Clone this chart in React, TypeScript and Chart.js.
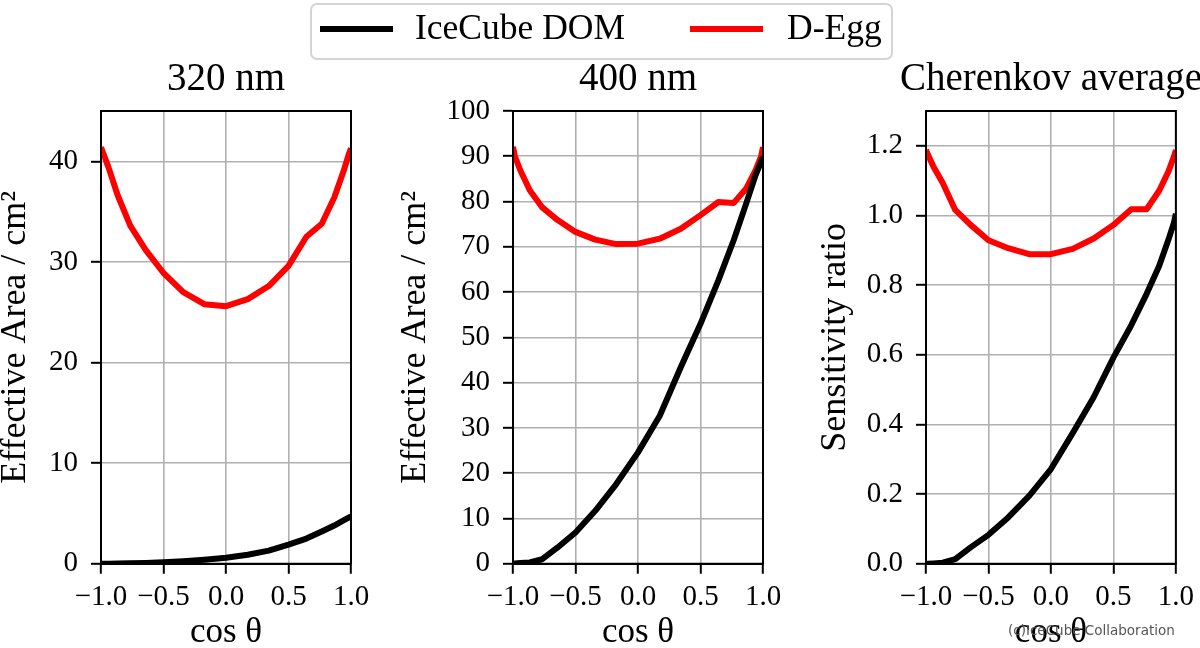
import React, { useEffect, useRef } from "react";
import { Chart, registerables } from "chart.js";

Chart.register(...registerables);

// cos(theta) sample points (theta in 10 degree steps)
const cosTheta = [-1, -0.985, -0.94, -0.866, -0.766, -0.643, -0.5, -0.342, -0.174, 0, 0.174, 0.342, 0.5, 0.643, 0.766, 0.866, 0.94, 0.985, 1];

// 320 nm effective area (cm^2)
const dom320 = [0, 0, 0.01, 0.02, 0.04, 0.08, 0.15, 0.25, 0.4, 0.6, 0.9, 1.3, 1.9, 2.5, 3.2, 3.8, 4.3, 4.6, 4.7];
const degg320 = [41.4, 40.9, 39.4, 36.6, 33.6, 31.2, 28.9, 27.0, 25.8, 25.6, 26.3, 27.6, 29.6, 32.5, 33.8, 36.4, 39.0, 40.8, 41.3];

// 400 nm effective area (cm^2)
const dom400 = [0, 0.05, 0.15, 0.3, 1.0, 3.6, 6.9, 11.7, 17.6, 24.6, 32.7, 43.4, 53.0, 62.6, 71.5, 79.6, 85.8, 88.8, 89.9];
const degg400 = [92.1, 90.0, 86.8, 82.5, 78.7, 75.9, 73.3, 71.6, 70.6, 70.7, 71.8, 74.0, 77.0, 79.9, 79.7, 82.9, 86.9, 90.0, 92.0];

// Cherenkov-weighted sensitivity ratio
const domCh = [0, 0, 0.001, 0.003, 0.013, 0.047, 0.083, 0.133, 0.195, 0.272, 0.375, 0.478, 0.592, 0.685, 0.775, 0.855, 0.93, 0.98, 1.005];
const deggCh = [1.188, 1.175, 1.14, 1.093, 1.016, 0.973, 0.929, 0.906, 0.889, 0.889, 0.904, 0.934, 0.973, 1.018, 1.018, 1.071, 1.126, 1.17, 1.188];

const panelTitles = ["320 nm", "400 nm", "Cherenkov average"];
const yLabels = ["Effective Area / cm\u00B2", "Effective Area / cm\u00B2", "Sensitivity ratio"];
const xLabel = "cos \u03B8";
const seriesNames = ["IceCube DOM", "D-Egg"];
const seriesColors = ["#000000", "#ff0000"];

const FONT = "'Liberation Serif', 'DejaVu Serif', serif";

type Spec = {
  title: string;
  yLabel: string;
  dom: number[];
  degg: number[];
  yMax: number;
  yStep: number;
  decimals: number;
  left: number;
  width: number;
  yAxisWidth: number;
  padRight: number;
};

const specs: Spec[] = [
  { title: panelTitles[0], yLabel: yLabels[0], dom: dom320, degg: degg320, yMax: 45, yStep: 10, decimals: 0, left: 0, width: 400, yAxisWidth: 101, padRight: 49 },
  { title: panelTitles[1], yLabel: yLabels[1], dom: dom400, degg: degg400, yMax: 100, yStep: 10, decimals: 0, left: 400, width: 400, yAxisWidth: 113, padRight: 37 },
  { title: panelTitles[2], yLabel: yLabels[2], dom: domCh, degg: deggCh, yMax: 1.3, yStep: 0.2, decimals: 1, left: 820, width: 380, yAxisWidth: 106, padRight: 24 },
];

// black frame around the plot area (like matplotlib spines)
const framePlugin = {
  id: "frame",
  afterDatasetsDraw(chart: any) {
    const { ctx, chartArea } = chart;
    ctx.save();
    ctx.strokeStyle = "#000";
    ctx.lineWidth = 2;
    ctx.strokeRect(chartArea.left, chartArea.top, chartArea.right - chartArea.left, chartArea.bottom - chartArea.top);
    ctx.restore();
  },
};

// center the title box over the plot area, wide enough not to squeeze the text
const titleCenterPlugin = {
  id: "titleCenter",
  afterLayout(chart: any) {
    const t = chart.titleBlock;
    if (!t) return;
    const cx = (chart.chartArea.left + chart.chartArea.right) / 2;
    const half = 200;
    t.left = cx - half;
    t.right = cx + half;
    t.width = half * 2;
  },
};

function fmtTick(v: number, decimals: number) {
  const s = Math.abs(v).toFixed(decimals);
  return (v < -1e-9 ? "\u2212" : "") + s;
}

function Panel({ spec }: { spec: Spec }) {
  const ref = useRef<HTMLCanvasElement>(null);
  useEffect(() => {
    if (!ref.current) return;
    const tickFont = { family: FONT, size: 29, lineHeight: 1.2 };
    const grid = {
      color: "#b0b0b0",
      lineWidth: 1.6,
      drawTicks: true,
      tickColor: "#000",
      tickWidth: 2,
      tickLength: 10,
    };
    const lineStyle = {
      borderWidth: 6,
      pointRadius: 0,
      tension: 0,
      clip: 0,
      borderJoinStyle: "round",
      borderCapStyle: "butt",
    };
    const chart = new Chart(ref.current, {
      type: "line",
      data: {
        datasets: [
          {
            label: seriesNames[0],
            data: cosTheta.map((x, i) => ({ x, y: spec.dom[i] })),
            borderColor: seriesColors[0],
            backgroundColor: seriesColors[0],
            ...lineStyle,
          },
          {
            label: seriesNames[1],
            data: cosTheta.map((x, i) => ({ x, y: spec.degg[i] })),
            borderColor: seriesColors[1],
            backgroundColor: seriesColors[1],
            ...lineStyle,
          },
        ],
      },
      options: {
        responsive: false,
        animation: false,
        devicePixelRatio: 1,
        events: [],
        layout: { padding: { left: 0, right: spec.padRight, top: 56.6, bottom: 6.25 } },
        plugins: {
          legend: { display: false },
          tooltip: { enabled: false },
          title: {
            display: true,
            text: spec.title,
            fullSize: false,
            color: "#000",
            font: { family: FONT, size: 39, weight: "normal", lineHeight: 1.2 },
            padding: { top: 0, bottom: 7.6 },
          },
        },
        scales: {
          x: {
            type: "linear",
            min: -1,
            max: 1,
            ticks: {
              stepSize: 0.5,
              color: "#000",
              font: tickFont,
              padding: 6,
              maxRotation: 0,
              autoSkip: false,
              includeBounds: false,
              callback: (v: any) => fmtTick(Number(v), 1),
            },
            grid,
            border: { display: true, color: "#000", width: 2 },
            title: {
              display: true,
              text: xLabel,
              color: "#000",
              font: { family: FONT, size: 35, lineHeight: 0.5 },
              padding: { top: 0, bottom: 0 },
            },
            afterFit: (s: any) => {
              s.height = 78;
            },
          },
          y: {
            type: "linear",
            min: 0,
            max: spec.yMax,
            ticks: {
              stepSize: spec.yStep,
              color: "#000",
              font: tickFont,
              padding: 13,
              autoSkip: false,
              includeBounds: false,
              callback: (v: any) => fmtTick(Number(v), spec.decimals),
            },
            grid,
            border: { display: true, color: "#000", width: 2 },
            title: {
              display: true,
              text: spec.yLabel,
              color: "#000",
              font: { family: FONT, size: 36, lineHeight: 0.8 },
              padding: { top: 1, bottom: 0 },
            },
            afterFit: (s: any) => {
              s.width = spec.yAxisWidth;
            },
          },
        },
      } as any,
      plugins: [framePlugin, titleCenterPlugin],
    });
    return () => chart.destroy();
  }, [spec]);
  return (
    <canvas
      ref={ref}
      width={spec.width}
      height={648}
      style={{ position: "absolute", left: spec.left, top: 0, width: spec.width, height: 648 }}
    />
  );
}

function Legend() {
  const textStyle: React.CSSProperties = {
    position: "absolute",
    top: 5.3,
    fontFamily: FONT,
    fontSize: 35.5,
    lineHeight: 1,
    color: "#000",
    whiteSpace: "nowrap",
  };
  return (
    <div
      style={{
        position: "absolute",
        left: 310,
        top: 3,
        width: 583,
        height: 57,
        boxSizing: "border-box",
        border: "2px solid #d4d4d4",
        borderRadius: 7,
        background: "rgba(255,255,255,0.85)",
      }}
    >
      <div style={{ position: "absolute", left: 8, top: 21, width: 73, height: 6, background: seriesColors[0] }} />
      <div style={{ ...textStyle, left: 103 }}>{seriesNames[0]}</div>
      <div style={{ position: "absolute", left: 378, top: 21, width: 73, height: 6, background: seriesColors[1] }} />
      <div style={{ ...textStyle, left: 475 }}>{seriesNames[1]}</div>
    </div>
  );
}

export default function App() {
  return (
    <div
      style={{
        position: "fixed",
        left: 0,
        top: 0,
        width: 1200,
        height: 648,
        background: "#fff",
        overflow: "hidden",
      }}
    >
      {specs.map((s, i) => (
        <Panel key={i} spec={s} />
      ))}
      <Legend />
      <div
        style={{
          position: "absolute",
          left: 1008,
          top: 622,
          fontFamily: "'DejaVu Sans', sans-serif",
          fontSize: 13.5,
          color: "#555",
          whiteSpace: "nowrap",
        }}
      >
        (c)IceCube Collaboration
      </div>
    </div>
  );
}
